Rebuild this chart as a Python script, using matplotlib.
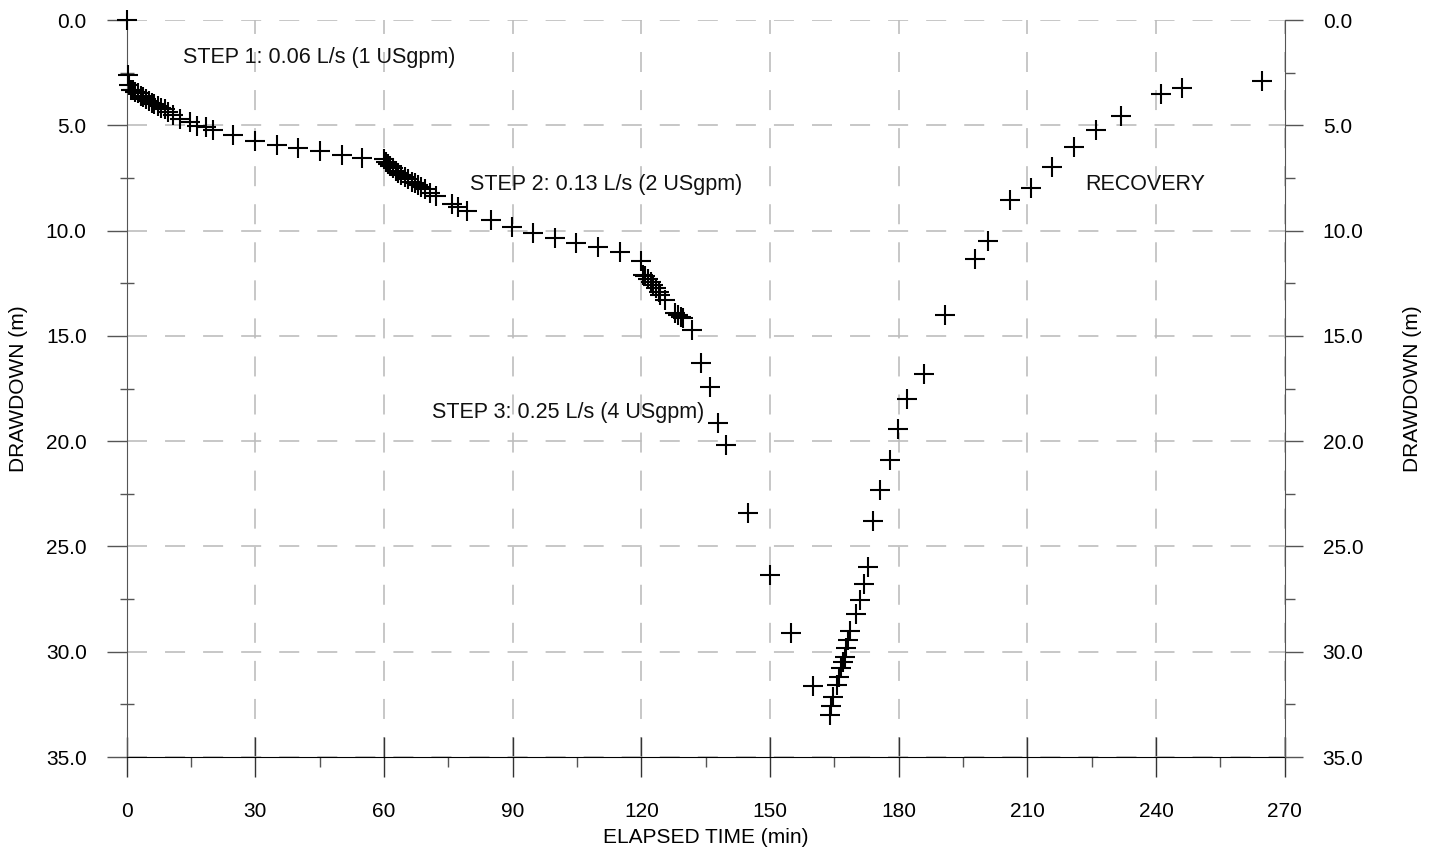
import matplotlib
matplotlib.use("Agg")
import matplotlib.pyplot as plt
from matplotlib.ticker import MultipleLocator, FormatStrFormatter

plt.rcParams['font.family'] = ['Liberation Sans', 'DejaVu Sans']
plt.rcParams['lines.scale_dashes'] = False

# ---- data ----
step1_time = [0, 0.25, 0.5, 1.0, 1.5, 2.0, 2.6, 3.3, 3.8, 4.6, 5.2, 5.8, 6.4, 7.3, 8.1, 8.9, 9.6,
              10.8, 12.4, 14.7, 16.3, 18.4, 20.0, 24.7, 29.8, 35.0, 39.9, 45.0, 50.1, 54.8]
step1_dd = [0, 2.62, 3.1, 3.3, 3.3, 3.40, 3.48, 3.61, 3.67, 3.77, 3.85, 3.93, 3.99, 4.08, 4.16, 4.24, 4.35,
            4.51, 4.72, 4.83, 5.03, 5.1, 5.2, 5.46, 5.75, 5.94, 6.08, 6.22, 6.41, 6.55]

step2_time = [60.0, 60.4, 60.9, 61.5, 62.1, 62.7, 63.3, 64.0, 64.8, 65.6, 66.4, 67.1, 67.9, 68.7,
              69.5, 70.6, 72.0, 75.8, 77.3, 79.3, 85.0, 89.9, 94.7, 99.8, 104.8, 109.9, 114.9]
step2_dd = [6.6, 6.73, 6.84, 6.93, 7.04, 7.15, 7.25, 7.36, 7.47, 7.56, 7.68, 7.76, 7.83, 7.95,
            8.04, 8.2, 8.38, 8.75, 8.9, 9.05, 9.5, 9.81, 10.1, 10.37, 10.6, 10.8, 11.0]

step3_time = [120.0, 120.4, 120.8, 121.5, 122.3, 122.7, 123.5, 124.1, 124.4, 125.4, 127.8, 128.5,
              129.3, 129.7, 131.7, 134.0, 135.9, 137.9, 139.8, 144.9, 149.9, 155.0, 160.0, 163.9]
step3_dd = [11.43, 12.1, 12.16, 12.31, 12.42, 12.58, 12.74, 12.9, 13.06, 13.3, 13.93, 14.0,
            14.09, 14.17, 14.72, 16.3, 17.41, 19.15, 20.18, 23.42, 26.35, 29.09, 31.62, 33.0]

recovery_time = [164.3, 164.7, 165.5, 166.1, 166.6, 167.0, 167.4, 167.8, 168.2, 168.7, 170.0, 170.9,
                 171.8, 172.8, 173.9, 175.6, 177.9, 179.8, 181.9, 185.8, 190.9, 197.9, 200.8,
                 205.9, 210.9, 215.8, 220.8, 225.9, 231.9, 241.1, 246.0, 264.6]
recovery_dd = [32.56, 32.13, 31.58, 31.18, 30.78, 30.47, 30.23, 29.83, 29.44, 29.0, 28.2, 27.54,
               26.8, 26.0, 23.8, 22.3, 20.9, 19.4, 18.0, 16.8, 14.0, 11.35, 10.5,
               8.55, 7.99, 7.0, 6.05, 5.22, 4.56, 3.51, 3.23, 2.9]

annotations = [
    (13.1, 1.76, "STEP 1: 0.06 L/s (1 USgpm)"),
    (80.0, 7.83, "STEP 2: 0.13 L/s (2 USgpm)"),
    (71.2, 18.66, "STEP 3: 0.25 L/s (4 USgpm)"),
    (223.6, 7.82, "RECOVERY"),
]

x_label = "ELAPSED TIME (min)"
y_label = "DRAWDOWN (m)"

# ---- figure ----
fig = plt.figure(figsize=(14.37, 8.48), dpi=100)
ax = fig.add_axes([0.0882, 0.1073, 0.8058, 0.8691])
ax.set_xlim(0, 270)
ax.set_ylim(35, 0)
ax.set_axisbelow(True)

ax.grid(True, which='major', color='#bdbdbd', lw=1.2, ls=(0, (14.4, 13)))

ax.xaxis.set_major_locator(MultipleLocator(30))
ax.xaxis.set_minor_locator(MultipleLocator(15))
ax.yaxis.set_major_locator(MultipleLocator(5))
ax.yaxis.set_minor_locator(MultipleLocator(2.5))
ax.yaxis.set_major_formatter(FormatStrFormatter('%.1f'))

ax.tick_params(axis='x', which='major', direction='inout', length=28.8, width=1.0,
               pad=18, labelsize=15, color='#333333')
ax.tick_params(axis='x', which='minor', direction='out', length=7.2, width=1.0, color='#555555')
ax.tick_params(axis='y', which='major', direction='out', length=14.4, width=1.0,
               pad=14.4, labelsize=15, color='#555555')
ax.tick_params(axis='y', which='minor', direction='inout', length=10, width=1.0, color='#555555')

ax.spines['top'].set_visible(False)
ax.spines['right'].set_visible(False)
ax.spines['left'].set_color('#555555')
ax.spines['bottom'].set_color('black')

for t, d in [(step1_time, step1_dd), (step2_time, step2_dd),
             (step3_time, step3_dd), (recovery_time, recovery_dd)]:
    ax.plot(t, d, ls='none', marker='+', ms=14.4, mew=1.5, color='black', clip_on=False, zorder=5)

for x, y, s in annotations:
    ax.text(x, y, s, fontsize=15.5, ha='left', va='center', color='#111111')

ax.set_xlabel(x_label, fontsize=15, labelpad=5)
ax.set_ylabel(y_label, fontsize=15, va='center')
ax.yaxis.set_label_coords(-0.0935, 0.5)

ax2 = ax.twinx()
ax2.set_ylim(35, 0)
for side in ['left', 'top', 'bottom']:
    ax2.spines[side].set_visible(False)
ax2.spines['right'].set_color('#555555')
ax2.yaxis.set_major_locator(MultipleLocator(5))
ax2.yaxis.set_minor_locator(MultipleLocator(2.5))
ax2.yaxis.set_major_formatter(FormatStrFormatter('%.1f'))
ax2.tick_params(axis='y', which='major', direction='out', length=13, width=1.0,
                pad=14.4, labelsize=15, color='#555555')
ax2.tick_params(axis='y', which='minor', direction='out', length=7.2, width=1.0, color='#555555')
ax2.set_ylabel(y_label, fontsize=15, va='center')
ax2.yaxis.set_label_coords(1.1105, 0.5)

fig.savefig("out.png", dpi=100)
